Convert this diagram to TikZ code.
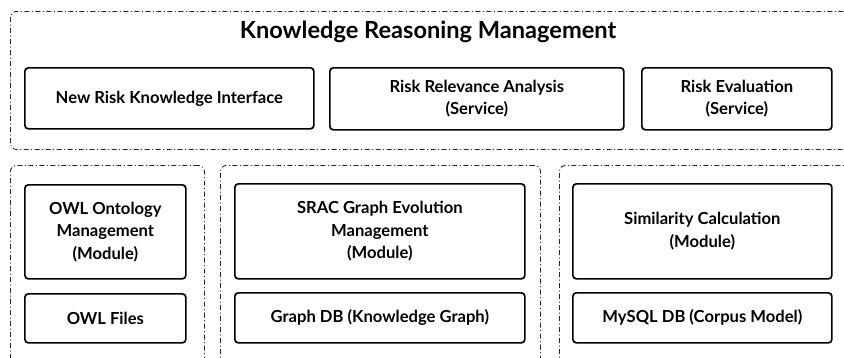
\documentclass[tikz,border=0pt]{standalone}
\usepackage{fontspec}
\setmainfont{Lato}
\begin{document}
\begin{tikzpicture}[x=1pt,y=-1pt,
  container/.style={draw=black!85, line width=0.9pt, rounded corners=6pt,
    dash pattern=on 5pt off 2.5pt on 1pt off 2.5pt, anchor=north west, inner sep=0pt},
  box/.style={draw, line width=1.7pt, rounded corners=3.5pt, anchor=north west,
    inner sep=0pt, align=center, font=\bfseries\fontsize{16.6}{22.5}\selectfont},
  title/.style={font=\bfseries\fontsize{23.6}{28}\selectfont}]
\clip (0,0) rectangle (844,357);
% containers
\node[container, minimum width=850pt, minimum height=138pt] (top) at (10,11) {};
\node[container, minimum width=194pt, minimum height=230pt] (c1) at (10,165) {};
\node[container, minimum width=320pt, minimum height=230pt] (c2) at (220,165) {};
\node[container, minimum width=320pt, minimum height=230pt] (c3) at (559,165) {};
\node[title] (ttl) at (428,32) {Knowledge Reasoning Management};
% top row
\node[box, minimum width=289pt, minimum height=61pt] (nrki) at (24,67) {New Risk Knowledge Interface};
\node[box, minimum width=294pt, minimum height=62pt] (rra) at (329,67) {Risk Relevance Analysis\\(Service)};
\node[box, minimum width=190pt, minimum height=62pt] (re) at (641,67) {Risk Evaluation\\(Service)};
% bottom
\node[box, minimum width=161pt, minimum height=94pt] (owl) at (24,184) {OWL Ontology\\Management\\(Module)};
\node[box, minimum width=161pt, minimum height=49pt] (owlf) at (24,293) {OWL Files};
\node[box, minimum width=290pt, minimum height=95pt] (srac) at (234,183) {SRAC Graph Evolution\\Management\\(Module)};
\node[box, minimum width=290pt, minimum height=50pt] (gdb) at (234,292) {Graph DB (Knowledge Graph)};
\node[box, minimum width=259pt, minimum height=95pt] (sim) at (572,183) {Similarity Calculation\\(Module)};
\node[box, minimum width=259pt, minimum height=50pt] (mysql) at (572,292) {MySQL DB (Corpus Model)};
\end{tikzpicture}
\end{document}
